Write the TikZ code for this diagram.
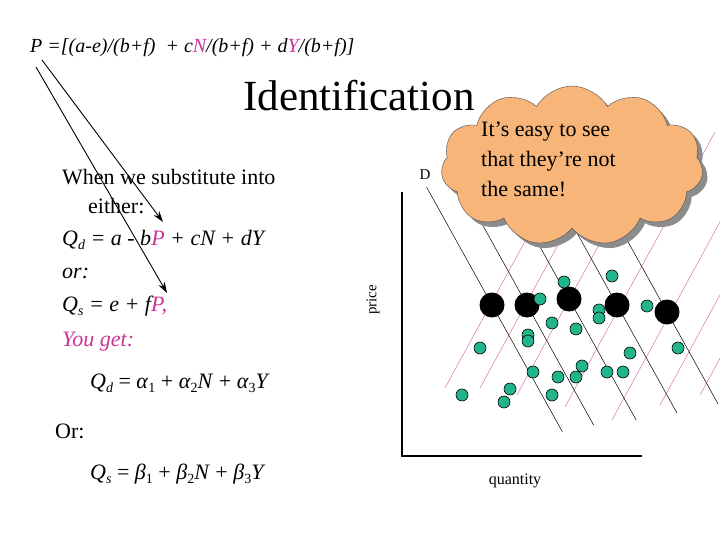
\documentclass[tikz,border=0pt]{standalone}
\usepackage{fontspec}
\setmainfont{Liberation Serif}
\usetikzlibrary{shapes.symbols,shadows,arrows.meta}
\definecolor{mag}{HTML}{CC3399}
\definecolor{grn}{HTML}{22B58C}
\definecolor{cloudc}{HTML}{F7B57A}
\newcommand{\sbs}[1]{\raisebox{-4pt}{\fontsize{14}{14}\selectfont #1}}
\tikzset{
  txt/.style={anchor=west,inner sep=0pt,font=\fontsize{22}{24}\selectfont},
  eq/.style={anchor=west,inner sep=0pt,font=\fontsize{22}{24}\selectfont},
  gdot/.style={circle,draw=black,fill=grn,minimum size=12pt,inner sep=0pt,line width=0.6pt},
  bdot/.style={circle,fill=black,minimum size=25pt,inner sep=0pt},
  dline/.style={black,line width=0.5pt},
  sline/.style={mag!70,line width=0.5pt},
  arr/.style={-{Stealth[length=11pt,width=7pt]},line width=0.9pt}
}
\begin{document}
\begin{tikzpicture}[x=1pt,y=-1pt]
\useasboundingbox[fill=white] (0,0) rectangle (720,540);
% top formula
\node[anchor=west,inner sep=0pt,font=\fontsize{20}{22}\selectfont\itshape] (top) at (30,48)
 {P =[(a-e)/(b+f)\ \ + c\textcolor{mag}{N}/(b+f) + d\textcolor{mag}{Y}/(b+f)]};
\node[font=\fontsize{43}{44}\selectfont] (title) at (359,96) {Identification};
% left text
\node[txt] (t1) at (62,177) {When we substitute into};
\node[txt] (t2) at (88,206) {either:};
\node[txt] (t3) at (62,240) {\itshape Q\sbs{d} = a - b\textcolor{mag}{P} + cN + dY};
\node[txt] (t4) at (62,273) {\itshape or:};
\node[txt] (t5) at (62,306) {\itshape Q\sbs{s} = e + f\textcolor{mag}{P,}};
\node[txt] (t6) at (62,342) {\itshape\color{mag} You get:};
\node[eq] (e1) at (90,383)
 {\textit{Q\sbs{d}} = \textit{α}\sbs{1} + \textit{α}\sbs{2}\textit{N} + \textit{α}\sbs{3}\textit{Y}};
\node[txt] (or) at (55,431) {Or:};
\node[eq] (e2) at (90,474)
 {\textit{Q\sbs{s}} = \textit{β}\sbs{1} + \textit{β}\sbs{2}\textit{N} + \textit{β}\sbs{3}\textit{Y}};
% arrows
\coordinate (a1s) at (42,60); \coordinate (a1e) at (163,222);
\coordinate (a2s) at (36,67); \coordinate (a2e) at (167,293);
\draw[arr] (a1s) -- (a1e);
\draw[arr] (a2s) -- (a2e);
% axes
\coordinate (ytop) at (402,192); \coordinate (org) at (402,456); \coordinate (xend) at (642,456);
\draw[line width=2.5pt] (ytop) -- (org) -- (xend);
\node[rotate=90,font=\fontsize{15}{16}\selectfont] (price) at (373,300) {price};
\node[font=\fontsize{16}{17}\selectfont] (qty) at (515,481) {quantity};
\node[font=\fontsize{15}{16}\selectfont] (D) at (425,175) {D};
% supply lines (pink)
\foreach \bx/\by in {445/388,480/388,517/395,565/407,612/420,660/405,700/395}
  \draw[sline] (\bx,\by) -- ++(150,-275);
% demand lines
\foreach \px/\py/\ey in {492/305/432,527/305/425,569/299/420,617/305/413,667/312/404}
  \draw[dline] ({\px-0.555*(\py-187)},187) -- ({\px+0.555*(\ey-\py)},\ey);
% big dots
\foreach \px/\py [count=\i] in {492/305,527/305,569/299,617/305,667/312}
  \node[bdot] (b\i) at (\px,\py) {};
% green dots
\foreach \gx/\gy [count=\i] in {564/282,612/276,540/299,647/306,599/310,599/318,552/323,576/329,528/335,528/341,480/348,678/348,630/353,582/366,533/372,558/377,576/377,607/372,623/372,510/389,462/395,504/402,552/395}
  \node[gdot] (g\i) at (\gx,\gy) {};
% cloud
\node[cloud,cloud puffs=11,cloud puff arc=120,aspect=1.7,fill=cloudc,draw=black!70,line width=0.4pt,
  minimum width=262pt,minimum height=160pt,
  drop shadow={shadow xshift=5pt,shadow yshift=-5pt,fill=black!45,opacity=1}] (cl) at (572,166) {};
\node[align=left,anchor=north west,inner sep=0pt,font=\fontsize{22}{30}\selectfont] (ct) at (481,122)
  {It’s easy to see\\ that they’re not\\ the same!};
\end{tikzpicture}
\end{document}
